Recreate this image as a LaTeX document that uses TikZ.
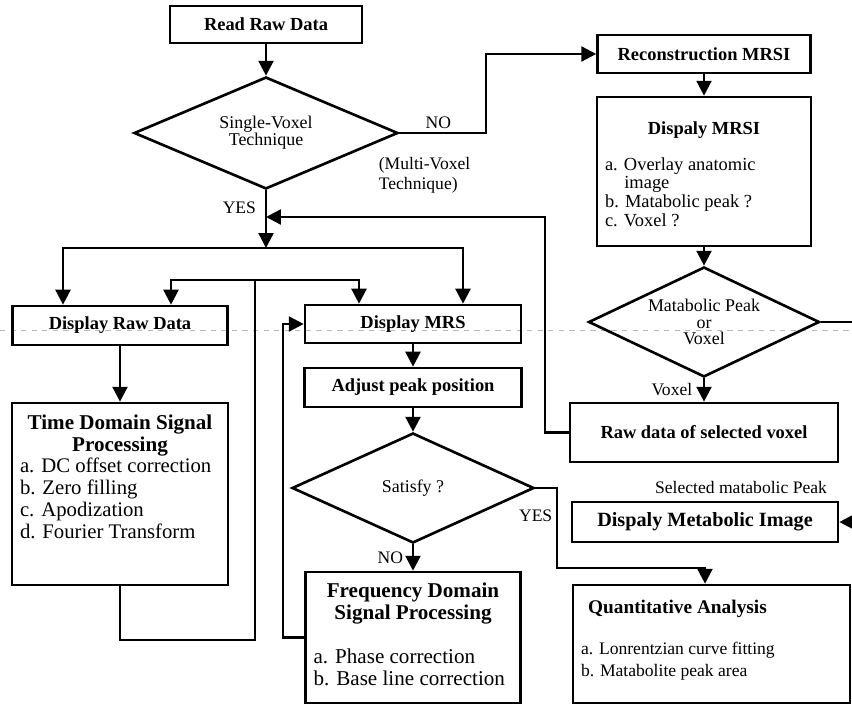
\documentclass[tikz,border=0pt]{standalone}
\usepackage{fontspec}
\setmainfont{Liberation Serif}
\usetikzlibrary{arrows.meta,shapes.geometric}

\tikzset{
  box/.style={draw, line width=1.5pt, inner sep=0pt, font=\bfseries\fontsize{10.5}{12}\selectfont},
  bigbox/.style={draw, line width=1.5pt, inner xsep=4.5pt, inner ysep=0pt},
  decision/.style={draw, diamond, aspect=2.1, line width=1.5pt, inner sep=0pt, align=center, font=\fontsize{10.2}{9.5}\selectfont},
  flow/.style={line width=1.4pt, -{Triangle[width=8.5pt,length=8.5pt]}},
  line/.style={line width=1.4pt},
  lbl/.style={inner sep=2pt, font=\fontsize{10}{11.5}\selectfont},
}

\begin{document}
\begin{tikzpicture}[x=0.02cm, y=-0.02cm]
    \useasboundingbox (0,0) rectangle (852,705);

    % scan line
    \draw[gray!55, dashed, line width=0.4pt] (0,330) -- (852,330);

    % left and middle column
    \node[box, minimum width=3.84cm, minimum height=0.74cm] (readraw) at (266,24.5) {Read Raw Data};
    \node[decision, minimum width=5.28cm, minimum height=2.24cm] (single) at (266,133) {Single-Voxel\\Technique};
    \node[box, minimum width=4.3cm, minimum height=0.78cm] (disprawd) at (120,325.5) {Display Raw Data};
    \node[bigbox] (tdsp) at (120,494) {\parbox[c][3.64cm][t]{4.0cm}{\vspace*{6.5pt}%
        {\centering\bfseries\fontsize{12}{12.5}\selectfont Time Domain Signal\\Processing\par}%
        {\raggedright\fontsize{11.8}{12.4}\selectfont a. DC offset correction\\b. Zero filling\\c. Apodization\\d. Fourier Transform\par}}};
    \node[box, minimum width=4.32cm, minimum height=0.76cm] (dispmrs) at (413,324) {Display MRS};
    \node[box, minimum width=4.34cm, minimum height=0.78cm] (adjust) at (413,387.5) {Adjust peak position};
    \node[decision, minimum width=4.84cm, minimum height=2.2cm] (satisfy) at (413,488) {Satisfy ?};
    \node[bigbox] (fdsp) at (413,637.5) {\parbox[c][2.62cm][t]{3.98cm}{\vspace*{6pt}%
        {\centering\bfseries\fontsize{12}{12.5}\selectfont Frequency Domain\\Signal Processing\par}%
        \vspace{12pt}%
        {\raggedright\fontsize{12}{13}\selectfont a. Phase correction\\b. Base line correction\par}}};

    % right column
    \node[box, minimum width=4.26cm, minimum height=0.76cm] (recon) at (704,54) {\raisebox{-3pt}{Reconstruction MRSI}};
    \node[bigbox] (mrsi) at (704,171.5) {\parbox[c][2.98cm][t]{3.96cm}{\vspace*{14pt}%
        {\centering\bfseries\fontsize{10.5}{12}\selectfont Dispaly MRSI\par}%
        \vspace{9.8pt}%
        {\raggedright\fontsize{10.5}{10.6}\selectfont a. Overlay anatomic\\\hspace*{11pt}image\\b. Matabolic peak ?\\c. Voxel ?\par}}};
    \node[decision, minimum width=4.62cm, minimum height=2.2cm] (peakvox) at (704,322) {Matabolic Peak\\or\\Voxel};
    \node[box, minimum width=5.36cm, minimum height=1.18cm] (rawsel) at (704,432.5) {Raw data of selected voxel};
    \node[box, minimum width=5.32cm, minimum height=0.8cm, font=\bfseries\fontsize{11.5}{13}\selectfont] (metaimg) at (705,522) {Dispaly Metabolic Image};
    \node[bigbox] (quant) at (711.5,644) {\parbox[c][2.36cm][t]{5.22cm}{\vspace*{8.5pt}%
        {\raggedright\bfseries\fontsize{11}{12.5}\selectfont\hspace*{4pt}Quantitative Analysis\par}%
        \vspace{10.7pt}%
        {\raggedright\fontsize{10}{12.5}\selectfont a. Lonrentzian curve fitting\\b. Matabolite peak area\par}}};

    \node[lbl, align=left, anchor=north west] (multi) at (375,153) {(Multi-Voxel\\Technique)};
    \node[lbl] (selpeak) at (741,487) {Selected matabolic Peak};

    \coordinate (split) at (266,248);
    \coordinate (backin) at (266,217);
    \coordinate (loopa) at (255,280);
    \coordinate (offright) at (852,322);
    \coordinate (offin) at (852,522);

    % connectors
    \draw[flow] (readraw.south) -- (single.north);
    \draw[flow] (single.east) -- node[lbl, above, pos=0.45] {NO} (486,133) |- (recon.west);
    \draw[flow] (single.south) -- node[lbl, left, pos=0.3, xshift=-3pt] {YES} (split);
    \draw[flow] (split) -| (63,0 |- disprawd.north);
    \draw[flow] (split) -| (463,0 |- dispmrs.north);
    \draw[line] (tdsp.south) -- (120,640) -| (loopa);
    \draw[flow] (loopa) -| (171,0 |- disprawd.north);
    \draw[flow] (loopa) -| (359,0 |- dispmrs.north);
    \draw[flow] (disprawd.south) -- (tdsp.north);
    \draw[flow] (dispmrs.south) -- (adjust.north);
    \draw[flow] (adjust.south) -- (satisfy.north);
    \draw[flow] (satisfy.south) -- node[lbl, left, xshift=-3pt] {NO} (fdsp.north);
    \draw[flow] (fdsp.west) -- (283,0 |- fdsp.west) |- (dispmrs.west);
    \draw[flow] (satisfy.east) -- (557,0 |- satisfy.east) -- node[lbl, left, pos=0.35] {YES} (557,568) -| (705,0 |- quant.north);

    \draw[flow] (recon.south) -- (mrsi.north);
    \draw[flow] (mrsi.south) -- (peakvox.north);
    \draw[flow] (peakvox.south) -- node[lbl, left, xshift=-4pt] {Voxel} (rawsel.north);
    \draw[flow] (rawsel.west) -| (545,217) -- (backin);
    \draw[line] (peakvox.east) -- (offright);
    \draw[flow] (offin) -- (metaimg.east);
\end{tikzpicture}
\end{document}
